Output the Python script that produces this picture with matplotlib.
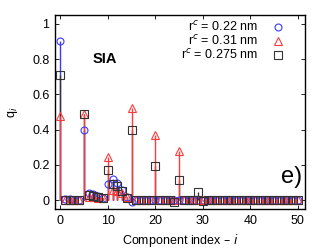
import numpy as np
import matplotlib.pyplot as plt

plt.rcParams['font.family'] = ['Liberation Sans', 'DejaVu Sans']

idx = np.arange(0, 51)

# q_i for r^c = 0.22 nm
q_022 = [0.90, 0.005, 0.005, 0.0, 0.0, 0.40, 0.043, 0.034, 0.022, 0.01,
         0.09, 0.12, 0.098, 0.055, 0.02, -0.01, 0.0, 0.0, 0.0, 0.0,
         0.0, 0.0, 0.0, 0.0, 0.0, 0.0, 0.0, 0.0, 0.0, 0.0,
         0.0, 0.0, 0.0, 0.0, 0.0, 0.0, 0.0, 0.0, 0.0, 0.0,
         0.0, 0.0, 0.0, 0.0, 0.0, 0.0, 0.0, 0.0, 0.0, 0.0, 0.0]

# q_i for r^c = 0.31 nm
q_031 = [0.48, 0.0, 0.0, 0.0, 0.0, 0.49, 0.02, 0.02, 0.015, 0.01,
         0.245, 0.06, 0.05, 0.04, 0.02, 0.52, 0.0, 0.0, 0.0, 0.0,
         0.37, 0.0, 0.0, 0.0, 0.0, 0.28, 0.0, 0.0, 0.0, 0.0,
         0.0, 0.0, 0.0, 0.0, 0.0, 0.0, 0.0, 0.0, 0.0, 0.0,
         0.0, 0.0, 0.0, 0.0, 0.0, 0.0, 0.0, 0.0, 0.0, 0.0, 0.0]

# q_i for r^c = 0.275 nm
q_0275 = [0.71, 0.0, 0.0, 0.0, 0.0, 0.49, 0.03, 0.025, 0.02, 0.01,
          0.172, 0.09, 0.083, 0.05, 0.01, 0.40, 0.0, 0.0, 0.0, 0.0,
          0.195, 0.0, 0.0, 0.0, -0.01, 0.115, 0.0, 0.0, 0.0, 0.045,
          -0.003, 0.0, 0.0, 0.0, 0.0, 0.0, 0.0, 0.0, 0.0, 0.0,
          0.0, 0.0, 0.0, 0.0, 0.0, 0.0, 0.0, 0.0, 0.0, 0.0, 0.0]

labels = ["r$^c$ = 0.22 nm", "r$^c$ = 0.31 nm", "r$^c$ = 0.275 nm"]

c_blue = '#3a3aff'
c_red = '#ff3a3a'
c_black = '#333333'

fig = plt.figure(figsize=(3.26, 2.49), dpi=100)
ax = fig.add_axes([55 / 326, 1 - 209 / 249, 250 / 326, 194 / 249])

# impulses
ax.vlines(idx, 0, q_022, color=c_blue, lw=1.0, zorder=1)
ax.vlines(idx, 0, q_0275, color=c_black, lw=1.0, zorder=2)
ax.vlines(idx, 0, q_031, color=c_red, lw=1.0, zorder=3)

# points
ax.plot(idx, q_022, 'o', ls='none', ms=5.0, mfc='none', mec=c_blue, mew=0.8,
        label=labels[0], zorder=4)
ax.plot(idx, q_031, '^', ls='none', ms=5.2, mfc='none', mec=c_red, mew=0.8,
        label=labels[1], zorder=5)
ax.plot(idx, q_0275, 's', ls='none', ms=5.2, mfc='none', mec=c_black, mew=0.8,
        label=labels[2], zorder=6)

ax.set_xlim(-1.1, 51.5)
ax.set_ylim(-0.05, 1.05)
ax.set_xticks([0, 10, 20, 30, 40, 50])
ax.set_yticks([0, 0.2, 0.4, 0.6, 0.8, 1])
ax.set_yticklabels(['0', '0.2', '0.4', '0.6', '0.8', '1'])
ax.tick_params(direction='in', top=True, right=True, labelsize=9,
               length=3, width=0.6, pad=4)
for s in ax.spines.values():
    s.set_linewidth(1.0)

ax.set_xlabel("Component index – $i$", fontsize=9, labelpad=4)
ax.set_ylabel("q$_i$", fontsize=9, labelpad=9)

ax.text(6.9, 0.80, "SIA", fontsize=10.5, fontweight='bold', va='center')
ax.text(50.9, 0.13, "e)", fontsize=17, ha='right', va='center')

leg = ax.legend(loc='upper right', bbox_to_anchor=(0.94, 1.0),
                frameon=False, markerfirst=False, borderaxespad=0,
                fontsize=9, handlelength=1.2, handletextpad=1.0,
                labelspacing=0.0)
for t in leg.get_texts():
    t.set_ha('right')
leg._legend_box.align = 'right'

fig.savefig('out.png', dpi=100)
